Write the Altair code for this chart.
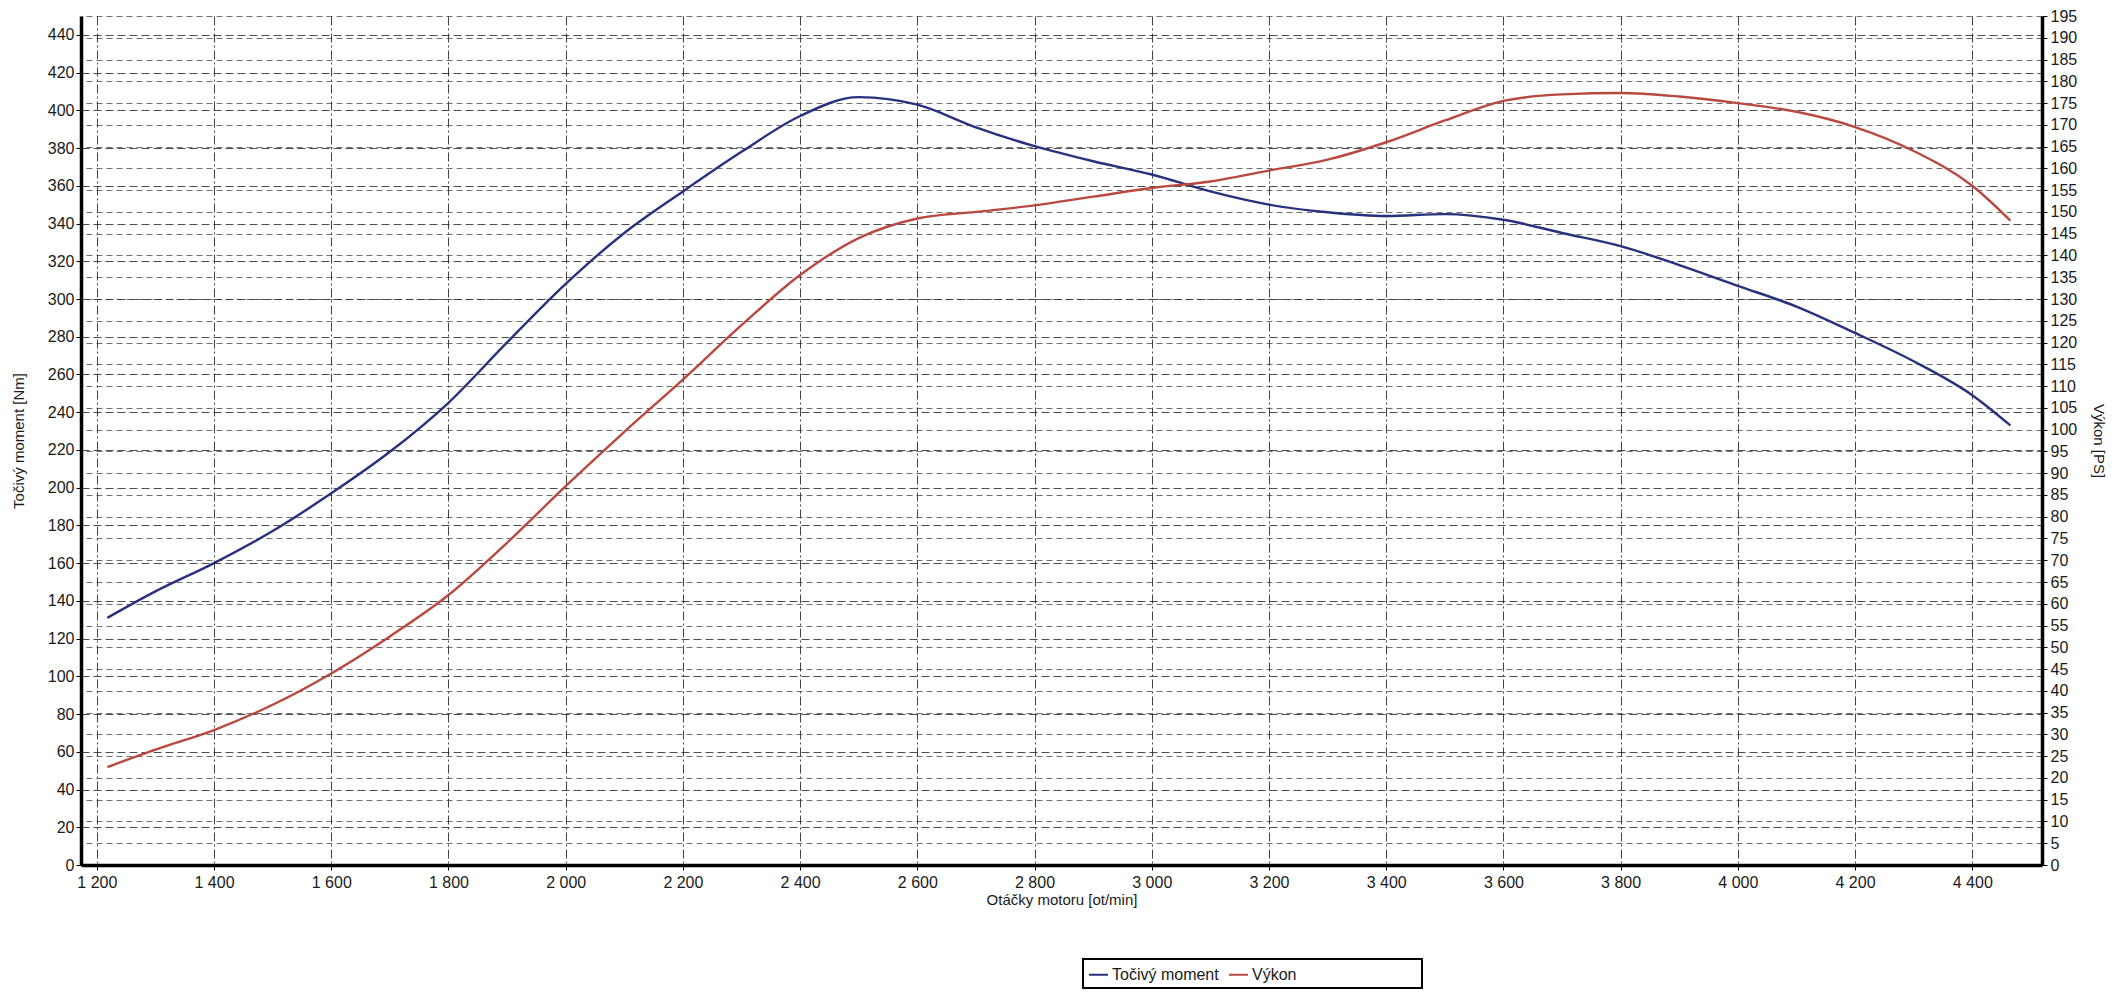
import altair as alt
import pandas as pd

# Engine speed [ot/min] at which both curves were read
rpm = [1218, 1300, 1400, 1500, 1600, 1700, 1800, 1900, 2000, 2100, 2200, 2300,
       2400, 2500, 2600, 2700, 2800, 2900, 3000, 3100, 3200, 3300, 3400, 3500,
       3600, 3700, 3800, 3900, 4000, 4100, 4200, 4300, 4400, 4465]

# Točivý moment [Nm]
torque = [131, 145, 160, 177, 197, 219, 245, 277, 308, 335, 357, 378,
          397, 407, 403, 391, 381, 373, 366, 357, 350, 346, 344, 345,
          342, 335, 328, 318, 307, 296, 282, 267, 249, 233]

# Výkon [PS]
power = [22.5, 26.5, 31, 36.8, 44, 52.5, 62, 74, 87, 99.5, 111.5, 124,
         135.5, 144, 148.5, 150, 151.5, 153.5, 155.5, 157, 159.5, 162, 166, 171,
         175.5, 177, 177.3, 176.5, 175, 173, 169.5, 164, 156, 148]

series_names = ["Točivý moment", "Výkon"]
series_colors = ["#27327e", "#b9493f"]

x_ticks = list(range(1200, 4401, 200))
left_ticks = list(range(0, 441, 20))
right_ticks = list(range(0, 196, 5))

df = pd.DataFrame({
    "rpm": rpm * 2,
    "value": torque + power,
    "serie": [series_names[0]] * len(rpm) + [series_names[1]] * len(rpm),
})

FONT = "Liberation Sans"
BLANK = "\u2800"

x_enc = alt.X(
    "rpm:Q",
    scale=alt.Scale(domain=[1173, 4519], nice=False, zero=False),
    axis=alt.Axis(
        values=x_ticks,
        labelExpr="replace(format(datum.value, ','), ',', ' ')",
        title="Otáčky motoru [ot/min]",
        grid=True,
        gridDash=[9, 3, 2, 3],
        gridColor="#222222",
        gridOpacity=0.85,
        tickSize=5,
        labelPadding=4,
        titlePadding=2,
    ),
)

color_enc = alt.Color(
    "serie:N",
    scale=alt.Scale(domain=series_names, range=series_colors),
    legend=alt.Legend(
        orient="none",
        legendX=1002,
        legendY=943,
        direction="horizontal",
        title=None,
        symbolType="stroke",
        symbolSize=360,
        symbolStrokeWidth=2,
        labelFontSize=16,
        labelOffset=3,
        columnPadding=6,
        padding=5,
        labelLimit=400,
        labelExpr=f"datum.label == 'Výkon' ? datum.label + '{BLANK * 10}' : datum.label",
    ),
)

base = alt.Chart(df)

torque_line = base.transform_filter(alt.datum.serie == series_names[0]).mark_line(
    strokeWidth=2.4, interpolate="monotone"
).encode(
    x=x_enc,
    y=alt.Y(
        "value:Q",
        scale=alt.Scale(domain=[0, 450], nice=False),
        axis=alt.Axis(
            orient="left",
            values=left_ticks,
            title="Točivý moment [Nm]",
            grid=True,
            gridDash=[8, 4],
            gridColor="#222222",
            gridOpacity=0.8,
            tickSize=5,
            labelPadding=2,
            titlePadding=21,
        ),
    ),
    color=color_enc,
)

power_line = base.transform_filter(alt.datum.serie == series_names[1]).mark_line(
    strokeWidth=2.4, interpolate="monotone"
).encode(
    x=x_enc,
    y=alt.Y(
        "value:Q",
        scale=alt.Scale(domain=[0, 195], nice=False),
        axis=alt.Axis(
            orient="right",
            values=right_ticks,
            title="Výkon [PS]",
            grid=True,
            gridDash=[6, 4],
            gridColor="#333333",
            gridOpacity=0.7,
            tickSize=5,
            labelPadding=3,
            titlePadding=14,
        ),
    ),
    color=color_enc,
)

chart = (
    alt.layer(torque_line, power_line)
    .resolve_scale(y="independent")
    .properties(
        width=1961,
        height=849,
        padding={"left": 73, "top": 8, "right": 70, "bottom": 124},
        autosize=alt.AutoSizeParams(type="none"),
        background="white",
    )
    .configure_view(stroke=None)
    .configure_axis(
        labelFont=FONT,
        titleFont=FONT,
        labelFontSize=16,
        titleFontSize=15,
        titleFontWeight="normal",
        labelColor="#1a1a1a",
        titleColor="#1a1a1a",
        domainColor="#000000",
        domainWidth=3.5,
        tickColor="#000000",
        tickWidth=1,
    )
    .configure_legend(
        labelFont=FONT,
        labelColor="#1a1a1a",
        strokeColor="#000000",
        strokeWidth=2,
        fillColor="white",
    )
)

chart.save("out.html", embed_options={"renderer": "svg", "actions": False})
